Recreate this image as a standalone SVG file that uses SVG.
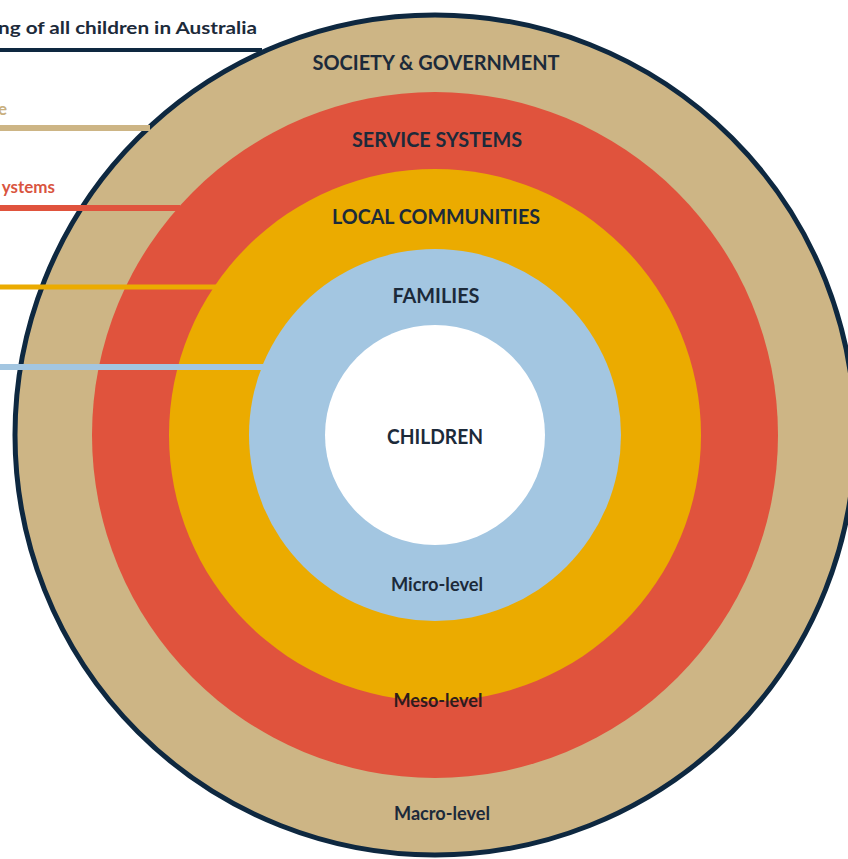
<svg xmlns="http://www.w3.org/2000/svg" width="848" height="859" viewBox="0 0 848 859">
  <style>
    .lbl { font-family: Lato, "Open Sans", "Liberation Sans", sans-serif; font-weight: bold; text-anchor: middle; fill: #1c2a3a; }
    .big { font-size: 21px; }
    .lvl { font-size: 18px; }
    .side { font-family: Lato, "Open Sans", "Liberation Sans", sans-serif; font-weight: bold; font-size: 17px; }
    .conn { fill: none; stroke-linecap: butt; }
  </style>
  <rect width="848" height="859" fill="#ffffff"/>
  <g id="society">
    <circle cx="435" cy="435" r="420" fill="#cdb585" stroke="#0e2840" stroke-width="5"/>
    <text class="lbl big" x="436" y="70" textLength="247" lengthAdjust="spacingAndGlyphs">SOCIETY &amp; GOVERNMENT</text>
    <text class="lbl lvl" x="442" y="820" textLength="96" lengthAdjust="spacingAndGlyphs">Macro-level</text>
  </g>
  <g id="service">
    <circle cx="435" cy="435" r="343" fill="#e0533d"/>
    <text class="lbl big" x="437" y="147" textLength="170" lengthAdjust="spacingAndGlyphs">SERVICE SYSTEMS</text>
  </g>
  <g id="communities">
    <circle cx="435" cy="435" r="266" fill="#ebab00"/>
    <text class="lbl big" x="436" y="224" textLength="208" lengthAdjust="spacingAndGlyphs">LOCAL COMMUNITIES</text>
  </g>
  <g id="families">
    <circle cx="435" cy="435" r="186" fill="#a3c6e1"/>
    <text class="lbl big" x="436" y="303" textLength="87" lengthAdjust="spacingAndGlyphs">FAMILIES</text>
    <text class="lbl lvl" x="437" y="591" textLength="92" lengthAdjust="spacingAndGlyphs">Micro-level</text>
  </g>
  <g id="children">
    <circle cx="435" cy="435" r="110" fill="#ffffff"/>
    <text class="lbl big" x="435" y="444" textLength="96" lengthAdjust="spacingAndGlyphs">CHILDREN</text>
  </g>
  <g id="meso-label">
    <text class="lbl lvl" x="438" y="707" textLength="89" lengthAdjust="spacingAndGlyphs" style="fill:#2e1c1c">Meso-level</text>
  </g>
  <g id="connectors">
    <line class="conn" x1="0" y1="50" x2="262" y2="50" stroke="#0e2840" stroke-width="4"/>
    <line class="conn" x1="0" y1="128" x2="150" y2="128" stroke="#cdb585" stroke-width="6"/>
    <line class="conn" x1="0" y1="208" x2="180" y2="208" stroke="#e0533d" stroke-width="6"/>
    <line class="conn" x1="0" y1="287" x2="216" y2="287" stroke="#ebab00" stroke-width="5"/>
    <line class="conn" x1="0" y1="367" x2="264" y2="367" stroke="#a3c6e1" stroke-width="6"/>
  </g>
  <g id="side-labels">
    <text class="side" x="257" y="34" text-anchor="end" textLength="259" lengthAdjust="spacingAndGlyphs" fill="#1c2a3a">ng of all children in Australia</text>
    <text class="side" x="7" y="115" text-anchor="end" fill="#c9b07f">e</text>
    <text class="side" x="55" y="193" text-anchor="end" fill="#d9553f">ystems</text>
  </g>
</svg>
